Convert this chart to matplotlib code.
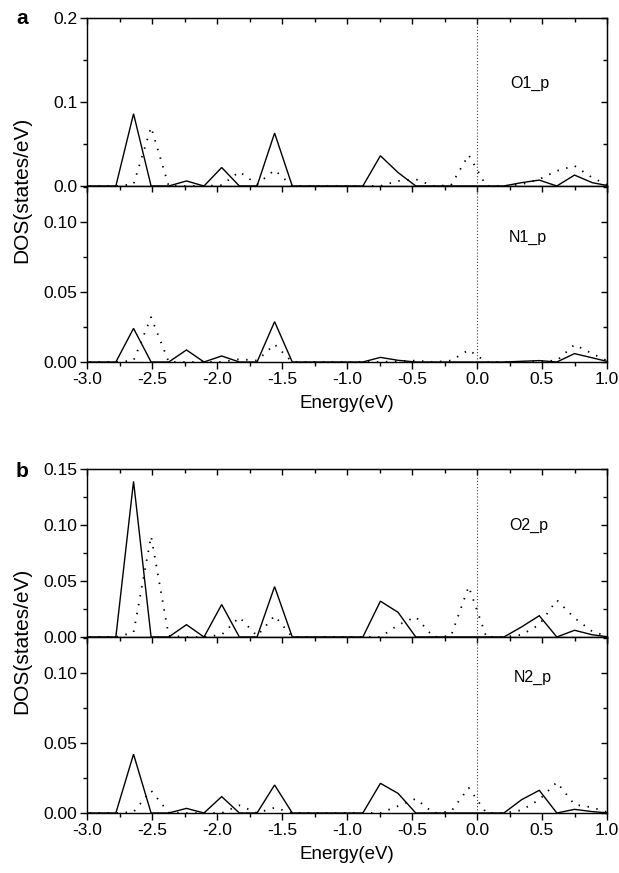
import matplotlib
matplotlib.use("Agg")
import matplotlib.pyplot as plt
from matplotlib.ticker import MultipleLocator, FormatStrFormatter

plt.rcParams['font.family'] = ['Liberation Sans', 'DejaVu Sans']
plt.rcParams['axes.unicode_minus'] = False

# Energy grid (eV)
energy = [-3.050, -2.914, -2.778, -2.642, -2.507, -2.371, -2.235, -2.100, -1.964, -1.828,
          -1.692, -1.557, -1.421, -1.285, -1.150, -1.014, -0.878, -0.743, -0.607,
          -0.471, -0.335, -0.200, -0.064, 0.072, 0.207, 0.343, 0.479, 0.614,
          0.750, 0.886, 1.021]

# panel a, O1_p
o1_solid = [0, 0, 0, 0.086, 0, 0, 0.006, 0, 0.022, 0, 0, 0.063, 0, 0, 0, 0, 0,
            0.036, 0.016, 0, 0, 0, 0, 0, 0, 0.004, 0.007, 0, 0.013, 0.004, 0]
o1_dot = [0, 0, 0, 0.002, 0.070, 0, 0, 0, 0.001, 0.017, 0.002, 0.019, 0, 0, 0, 0, 0,
          0, 0.006, 0.008, 0, 0.001, 0.037, 0, 0, 0.002, 0.008, 0.018, 0.024, 0.010, 0]
# panel a, N1_p
n1_solid = [0, 0, 0, 0.024, 0, 0, 0.0086, 0, 0.0043, 0, 0, 0.0288, 0, 0, 0, 0, 0,
            0.0033, 0.0012, 0, 0, 0, 0, 0, 0, 0.0005, 0.001, 0, 0.006, 0.003, 0]
n1_dot = [0, 0, 0, 0.001, 0.032, 0, 0, 0, 0, 0.002, 0.001, 0.0126, 0, 0, 0, 0, 0,
          0, 0.0005, 0.001, 0, 0.001, 0.0086, 0, 0, 0, 0.0005, 0.001, 0.0124, 0.006, 0]
# panel b, O2_p
o2_solid = [0, 0, 0, 0.139, 0, 0, 0.011, 0, 0.029, 0, 0, 0.045, 0, 0, 0, 0, 0,
            0.032, 0.022, 0, 0, 0, 0, 0, 0, 0.009, 0.019, 0, 0.006, 0.002, 0]
o2_dot = [0, 0, 0, 0.004, 0.090, 0.001, 0, 0, 0.002, 0.0176, 0.001, 0.019, 0, 0, 0, 0, 0,
          0, 0.0107, 0.018, 0, 0.001, 0.045, 0, 0, 0.002, 0.011, 0.033, 0.017, 0.005, 0]
# panel b, N2_p
n2_solid = [0, 0, 0, 0.042, 0, 0, 0.0033, 0, 0.0117, 0, 0, 0.020, 0, 0, 0, 0, 0,
            0.0212, 0.014, 0, 0, 0, 0, 0, 0, 0.0095, 0.0162, 0, 0.0026, 0.001, 0]
n2_dot = [0, 0, 0, 0.0007, 0.016, 0.0003, 0, 0, 0, 0.0055, 0, 0.0038, 0, 0, 0, 0, 0,
          0, 0.005, 0.0102, 0, 0.001, 0.018, 0, 0, 0.002, 0.0095, 0.022, 0.006, 0.004, 0]

labels = ["O1_p", "N1_p", "O2_p", "N2_p"]
label_pos = [(0.41, 0.1226), (0.39, 0.089), (0.40, 0.100), (0.43, 0.097)]

W, H = 619, 873
fig = plt.figure(figsize=(W / 100, H / 100), dpi=100)

left = 87 / W
width = (607 - 87) / W

def rect(top_px, bot_px):
    return [left, 1 - bot_px / H, width, (bot_px - top_px) / H]

specs = [
    (rect(18, 186), o1_solid, o1_dot, (0, 0.2), 0.1, 0.05, '%.1f'),
    (rect(186, 362), n1_solid, n1_dot, (0, 0.1257), 0.05, 0.025, '%.2f'),
    (rect(469, 637), o2_solid, o2_dot, (0, 0.15), 0.05, 0.025, '%.2f'),
    (rect(637, 813), n2_solid, n2_dot, (0, 0.1257), 0.05, 0.025, '%.2f'),
]

FS = 12.5
axes = []
for i, (r, ys, yd, ylim, maj, mnr, fmt) in enumerate(specs):
    ax = fig.add_axes(r)
    axes.append(ax)
    ax.plot(energy, ys, color='black', lw=1.0, solid_joinstyle='miter')
    ax.plot(energy, yd, color='black', lw=1.3, linestyle=(0, (0.8, 4.2)))
    ax.axvline(0.0, color='0.25', lw=0.8, linestyle=(0, (1, 1.8)))
    ax.set_xlim(-3.0, 1.0)
    ax.set_ylim(*ylim)
    ax.xaxis.set_major_locator(MultipleLocator(0.5))
    ax.xaxis.set_minor_locator(MultipleLocator(0.25))
    ax.yaxis.set_major_locator(MultipleLocator(maj))
    ax.yaxis.set_minor_locator(MultipleLocator(mnr))
    ax.yaxis.set_major_formatter(FormatStrFormatter(fmt))
    ax.xaxis.set_major_formatter(FormatStrFormatter('%.1f'))
    ax.tick_params(axis='both', which='major', direction='out', length=5, width=1.0,
                   labelsize=FS, pad=2)
    ax.tick_params(axis='both', which='minor', direction='out', length=3, width=1.0)
    for sp in ax.spines.values():
        sp.set_linewidth(1.0)
    # inward ticks on top and right
    sx = ax.secondary_xaxis('top')
    sx.xaxis.set_major_locator(MultipleLocator(0.5))
    sx.xaxis.set_minor_locator(MultipleLocator(0.25))
    sx.tick_params(which='major', direction='in', length=4, width=1.0, labeltop=False)
    sx.tick_params(which='minor', direction='in', length=3, width=1.0)
    sy = ax.secondary_yaxis('right')
    sy.yaxis.set_major_locator(MultipleLocator(maj))
    sy.yaxis.set_minor_locator(MultipleLocator(mnr))
    sy.tick_params(which='major', direction='in', length=4, width=1.0, labelright=False)
    sy.tick_params(which='minor', direction='in', length=3, width=1.0)
    if i in (0, 2):
        ax.tick_params(axis='x', labelbottom=False)
    else:
        ax.set_xlabel('Energy(eV)', fontsize=13.5, labelpad=6)
    tx, ty = label_pos[i]
    ax.text(tx, ty, labels[i], fontsize=11.5, ha='center', va='center')

# y labels spanning each pair
fig.text(22 / W, 1 - 190 / H, 'DOS(states/eV)', rotation=90, fontsize=15,
         ha='center', va='center')
fig.text(22 / W, 1 - 641 / H, 'DOS(states/eV)', rotation=90, fontsize=15,
         ha='center', va='center')
fig.text(22 / W, 1 - 18 / H, 'a', fontsize=15, fontweight='bold', ha='center', va='center')
fig.text(22 / W, 1 - 472 / H, 'b', fontsize=15, fontweight='bold', ha='center', va='center')

fig.savefig('out.png', dpi=100)
